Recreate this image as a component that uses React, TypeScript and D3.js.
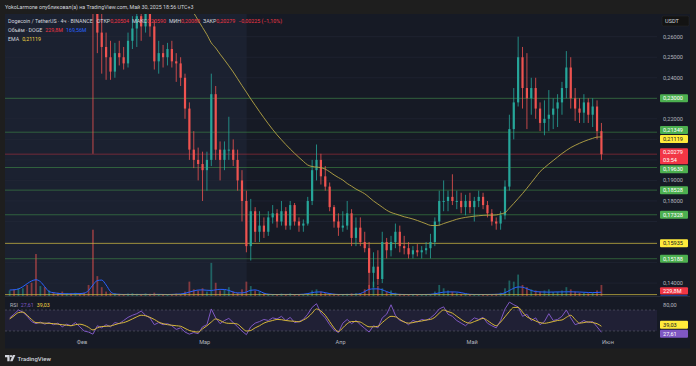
import * as d3 from "d3";

// daily candles, 2025-01-15 .. 2025-05-30  [open, high, low, close]
const firstDay = Date.UTC(2025, 0, 15);
const ohlc: [number, number, number, number][] = [
  [0.37, 0.385, 0.36, 0.38], [0.38, 0.39, 0.36, 0.37], [0.37, 0.4, 0.365, 0.39], [0.39, 0.43, 0.38, 0.4],
  [0.4, 0.41, 0.34, 0.37], [0.37, 0.4, 0.34, 0.36], [0.36, 0.38, 0.33, 0.34], [0.34, 0.37, 0.33, 0.36],
  [0.36, 0.37, 0.34, 0.34], [0.34, 0.36, 0.33, 0.35], [0.35, 0.36, 0.33, 0.34], [0.34, 0.345, 0.31, 0.33],
  [0.33, 0.34, 0.31, 0.32], [0.32, 0.34, 0.315, 0.335], [0.335, 0.345, 0.325, 0.33], [0.33, 0.34, 0.32, 0.335],
  [0.335, 0.34, 0.32, 0.325],
  // Feb
  [0.325, 0.33, 0.3, 0.305], [0.305, 0.31, 0.275, 0.28], [0.28, 0.29, 0.203, 0.272], [0.272, 0.28, 0.252, 0.262],
  [0.262, 0.275, 0.242, 0.255], [0.255, 0.262, 0.239, 0.25], [0.25, 0.258, 0.239, 0.243], [0.243, 0.257, 0.24, 0.252],
  [0.252, 0.258, 0.246, 0.25], [0.25, 0.255, 0.244, 0.247], [0.247, 0.262, 0.245, 0.258], [0.258, 0.27, 0.254, 0.264],
  [0.264, 0.275, 0.255, 0.27], [0.27, 0.278, 0.258, 0.265], [0.265, 0.28, 0.262, 0.275], [0.275, 0.278, 0.26, 0.265],
  [0.265, 0.268, 0.244, 0.248], [0.248, 0.258, 0.242, 0.252], [0.252, 0.256, 0.245, 0.25], [0.25, 0.257, 0.246, 0.254],
  [0.254, 0.258, 0.245, 0.248], [0.248, 0.252, 0.238, 0.247], [0.247, 0.25, 0.236, 0.24], [0.24, 0.242, 0.22, 0.225],
  [0.225, 0.228, 0.2, 0.205], [0.205, 0.214, 0.196, 0.2], [0.2, 0.206, 0.19, 0.198], [0.198, 0.204, 0.18, 0.195],
  // Mar
  [0.195, 0.204, 0.185, 0.2], [0.2, 0.242, 0.197, 0.232], [0.232, 0.236, 0.2, 0.205], [0.205, 0.209, 0.19, 0.2],
  [0.2, 0.209, 0.195, 0.205], [0.205, 0.221, 0.2, 0.205], [0.205, 0.21, 0.197, 0.2], [0.2, 0.205, 0.185, 0.19],
  [0.19, 0.195, 0.17, 0.18], [0.18, 0.185, 0.155, 0.158], [0.158, 0.181, 0.151, 0.175], [0.175, 0.177, 0.16, 0.165],
  [0.165, 0.175, 0.16, 0.168], [0.168, 0.172, 0.162, 0.165], [0.165, 0.175, 0.163, 0.172], [0.172, 0.178, 0.169, 0.174],
  [0.174, 0.176, 0.167, 0.17], [0.17, 0.18, 0.168, 0.175], [0.175, 0.177, 0.166, 0.168], [0.168, 0.18, 0.166, 0.178],
  [0.178, 0.179, 0.168, 0.17], [0.17, 0.172, 0.165, 0.168], [0.168, 0.171, 0.165, 0.169], [0.169, 0.182, 0.168, 0.18],
  [0.18, 0.2, 0.178, 0.195], [0.195, 0.2075, 0.19, 0.2], [0.2, 0.203, 0.188, 0.192], [0.192, 0.197, 0.185, 0.187],
  [0.187, 0.189, 0.175, 0.177], [0.177, 0.178, 0.167, 0.17], [0.17, 0.174, 0.163, 0.167],
  // Apr
  [0.167, 0.175, 0.165, 0.168], [0.168, 0.18, 0.166, 0.174], [0.174, 0.176, 0.158, 0.162], [0.162, 0.172, 0.158, 0.167],
  [0.167, 0.172, 0.158, 0.16], [0.16, 0.165, 0.155, 0.157], [0.157, 0.16, 0.137, 0.145], [0.145, 0.155, 0.138, 0.148],
  [0.148, 0.156, 0.139, 0.142], [0.142, 0.165, 0.14, 0.16], [0.16, 0.162, 0.152, 0.156], [0.156, 0.163, 0.153, 0.16],
  [0.16, 0.169, 0.157, 0.165], [0.165, 0.168, 0.155, 0.158], [0.158, 0.163, 0.154, 0.157], [0.157, 0.16, 0.152, 0.154],
  [0.154, 0.158, 0.152, 0.156], [0.156, 0.159, 0.153, 0.155], [0.155, 0.158, 0.152, 0.156], [0.156, 0.16, 0.154, 0.157],
  [0.157, 0.164, 0.152, 0.16], [0.16, 0.172, 0.158, 0.17], [0.17, 0.185, 0.168, 0.18], [0.18, 0.19, 0.175, 0.18],
  [0.18, 0.185, 0.175, 0.182], [0.182, 0.193, 0.178, 0.18], [0.18, 0.185, 0.176, 0.18], [0.18, 0.184, 0.174, 0.177],
  [0.177, 0.183, 0.173, 0.18], [0.18, 0.184, 0.174, 0.177],
  // May
  [0.177, 0.182, 0.17, 0.18], [0.18, 0.185, 0.177, 0.182], [0.182, 0.184, 0.176, 0.178], [0.178, 0.18, 0.172, 0.174],
  [0.174, 0.176, 0.168, 0.17], [0.17, 0.172, 0.166, 0.169], [0.169, 0.175, 0.166, 0.173], [0.173, 0.19, 0.171, 0.187],
  [0.187, 0.222, 0.185, 0.215], [0.215, 0.235, 0.21, 0.228], [0.228, 0.26, 0.226, 0.25], [0.25, 0.255, 0.225, 0.235],
  [0.235, 0.252, 0.215, 0.23], [0.23, 0.24, 0.222, 0.235], [0.235, 0.24, 0.22, 0.225], [0.225, 0.228, 0.214, 0.218],
  [0.218, 0.229, 0.212, 0.22], [0.22, 0.234, 0.214, 0.222], [0.222, 0.23, 0.215, 0.225], [0.225, 0.232, 0.216, 0.228],
  [0.228, 0.238, 0.222, 0.235], [0.235, 0.253, 0.23, 0.245], [0.245, 0.25, 0.225, 0.23], [0.23, 0.235, 0.219, 0.225],
  [0.225, 0.23, 0.218, 0.223], [0.223, 0.232, 0.218, 0.228], [0.228, 0.23, 0.218, 0.222], [0.222, 0.23, 0.216, 0.226],
  [0.226, 0.229, 0.21, 0.214], [0.214, 0.218, 0.2, 0.20279],
];

// volume, millions of DOGE
const volumes = [
  250, 300, 350, 350, 500, 600, 1900, 450, 400, 250, 180, 150, 200, 130, 120, 150, 130,
  150, 500, 3000, 900, 400, 200, 150, 120, 100, 90, 110, 130, 100, 90, 120, 100, 150, 90, 80, 70, 90, 110, 80, 200, 650, 300, 250, 350,
  200, 1500, 600, 250, 300, 400, 200, 150, 300, 650, 450, 250, 200, 120, 100, 80, 90, 110, 80, 120, 70, 60, 70, 120, 250, 300, 200, 150, 120, 100, 90,
  90, 100, 120, 130, 110, 300, 500, 650, 450, 350, 200, 250, 150, 100, 80, 70, 60, 60, 50, 60, 80, 200, 500, 350, 250, 200, 150, 100, 90, 80,
  80, 90, 70, 60, 80, 100, 150, 350, 700, 650, 970, 500, 400, 300, 250, 200, 250, 300, 180, 200, 250, 400, 300, 200, 150, 150, 120, 150, 250, 500,
];
const volumeMA = [
  270, 280, 320, 420, 560, 680, 736, 650, 420, 200, 150, 120, 105, 100, 100, 105, 110,
  130, 250, 500, 700, 720, 500, 200, 90, 75, 70, 72, 68, 70, 72, 70, 68, 70, 75, 70, 68, 72, 80, 90, 120, 180, 230, 270, 276,
  260, 250, 280, 300, 295, 250, 180, 140, 140, 180, 260, 276, 220, 130, 80, 70, 68, 70, 72, 70, 68, 70, 80, 110, 150, 180, 184, 150, 110, 80, 70,
  70, 70, 72, 75, 110, 200, 300, 322, 322, 280, 200, 130, 90, 72, 70, 68, 70, 70, 68, 70, 75, 100, 140, 175, 184, 184, 180, 150, 110, 75,
  70, 70, 68, 70, 72, 75, 90, 150, 250, 350, 410, 400, 330, 250, 200, 184, 180, 175, 180, 184, 184, 190, 190, 184, 180, 170, 160, 155, 160, 170,
];
const ema = [
  0.35, 0.35, 0.351, 0.352, 0.353, 0.353, 0.353, 0.352, 0.351, 0.35, 0.349, 0.348, 0.347, 0.346, 0.345, 0.344, 0.342,
  0.34, 0.337, 0.334, 0.331, 0.328, 0.325, 0.322, 0.319, 0.316, 0.313, 0.31, 0.307, 0.304, 0.301, 0.298, 0.295, 0.292, 0.289, 0.286, 0.283,
  0.281, 0.279, 0.277, 0.275, 0.274, 0.2715, 0.268, 0.2645,
  0.261, 0.257, 0.2545, 0.2515, 0.2487, 0.2458, 0.2428, 0.2395, 0.2362, 0.233, 0.2297, 0.2266, 0.2235, 0.2205, 0.2176, 0.2148, 0.2122,
  0.2098, 0.2075, 0.2053, 0.2032, 0.2012, 0.1993, 0.1975, 0.1968, 0.1965, 0.1962, 0.1955, 0.1942, 0.1927, 0.1914,
  0.1902, 0.1885, 0.1872, 0.1858, 0.1847, 0.1835, 0.1818, 0.18, 0.1785, 0.177, 0.1755, 0.1744, 0.1737, 0.173, 0.1723, 0.1718, 0.1712,
  0.1705, 0.1697, 0.1689, 0.1681, 0.168, 0.1682, 0.169, 0.1697, 0.1704, 0.1711, 0.1716, 0.172, 0.1723,
  0.1726, 0.1728, 0.173, 0.1731, 0.1731, 0.1732, 0.1737, 0.1743, 0.1765, 0.1788, 0.1812, 0.1836, 0.1862, 0.1889, 0.1916, 0.1943, 0.1962,
  0.198, 0.1997, 0.2014, 0.2031, 0.2046, 0.206, 0.2071, 0.2081, 0.209, 0.2098, 0.2105, 0.2111, 0.21119,
];
const rsi = [
  55, 62, 70, 66, 58, 48, 44, 47, 43, 46, 42, 45, 38, 43, 40, 46, 38,
  30, 28, 24, 40, 36, 42, 38, 46, 44, 50, 56, 60, 63, 68, 60, 55, 42, 46, 42, 44, 40, 33, 36, 28, 24, 27, 25, 38,
  42, 72, 55, 44, 50, 54, 46, 38, 30, 23, 38, 45, 48, 52, 50, 55, 53, 58, 50, 56, 46, 48, 52, 62, 75, 82, 64, 55, 42, 32, 27,
  45, 52, 44, 50, 42, 35, 28, 40, 36, 55, 62, 80, 60, 50, 48, 42, 50, 47, 52, 50, 55, 62, 72, 76, 62, 58, 50, 45, 40, 48,
  55, 52, 56, 45, 40, 36, 50, 72, 85, 80, 76, 58, 62, 50, 55, 42, 48, 63, 50, 52, 58, 70, 55, 42, 45, 50, 46, 48, 38, 27.61,
];
const rsiMA = [
  53, 59, 65, 66, 60, 52, 46, 45.5, 45, 44.6, 44, 43, 42, 41, 40, 42, 43,
  41, 37, 32, 36, 38.5, 39, 39.5, 42, 44.5, 46, 49, 53, 57, 60, 59, 56, 52, 47, 44, 42, 41, 40, 39, 35, 31, 29, 28, 34,
  40, 47, 53, 50, 46, 44.6, 44.6, 43, 36, 30, 31, 36, 40, 45, 48, 50, 52, 51.5, 50, 49, 48.5, 47.5, 51, 56, 64, 72, 68, 60, 48, 36, 29,
  36, 44, 48, 48, 47, 42, 38, 38, 39, 46, 53, 58, 57, 52, 47, 45, 46, 48, 49, 51, 52, 56, 64, 70, 67, 64, 58, 52, 47, 45,
  48, 51, 54, 50, 44, 40, 47, 57, 67, 75, 75, 66, 57, 53, 49, 46, 44.6, 46, 48, 50, 51, 56, 60, 52, 45, 46, 47.5, 46, 44, 39.03,
];

const monthStarts = ["2025-02-01", "2025-03-01", "2025-04-01", "2025-05-01", "2025-06-01"];
const monthNames = ["Фев", "Мар", "Апр", "Май", "Июн"];
const greenLevels = [0.23, 0.21349, 0.1963, 0.18528, 0.17328, 0.15188];
const redLevels = [0.20279];
const yellowLevels = [0.15935, 0.1344];
const highlightEnd = "2025-03-10T14:00:00Z";
const lastPrice = 0.20279;
const lastEma = 0.21119;
const lastVolume = 229.8;
const lastRsi = 27.61;
const lastRsiMA = 39.03;

const UP = "#26a69a";
const DOWN = "#ef5350";
const FONT = "Roboto, 'Noto Sans', sans-serif";

const fmt = (v: number) => v.toFixed(5).replace(".", ",");

type Lab = { y: number; h: number; text: string[]; fill: string; color: string };

// push overlapping axis labels apart, like the price scale does
function resolve(labels: Lab[], gap = 1) {
  const ls = [...labels].sort((a, b) => a.y - b.y);
  for (let k = 0; k < 30; k++) {
    for (let i = 1; i < ls.length; i++) {
      const a = ls[i - 1], b = ls[i];
      const need = a.h / 2 + b.h / 2 + gap;
      const d = b.y - a.y;
      if (d < need) {
        const o = (need - d) / 2;
        a.y -= o;
        b.y += o;
      }
    }
  }
  return ls;
}

export default function App() {
  const left = 5, right = 657, top = 14, paneBottom = 296.5, bottom = 348.5;
  const x = d3
    .scaleUtc()
    .domain([new Date(monthStarts[0]), new Date(monthStarts[4])])
    .range([82, 608]);
  const y = d3.scaleLinear().domain([0.14, 0.26]).range([283.1, 36.7]);
  const yv = d3.scaleLinear().domain([0, 3100]).range([296, 227.5]);
  const yr = d3.scaleLinear().domain([30, 70]).range([331, 310]);
  const cx = (i: number) => x(new Date(firstDay + i * 864e5 + 432e5));
  const bw = 2.2;

  const emaLine = d3.line<number>().x((_, i) => cx(i)).y((d) => y(d)).curve(d3.curveMonotoneX);
  const volLine = d3.line<number>().x((_, i) => cx(i)).y((d) => yv(d)).curve(d3.curveMonotoneX);
  const rsiLine = d3.line<number>().x((_, i) => cx(i)).y((d) => yr(d));
  const rsiMALine = d3.line<number>().x((_, i) => cx(i)).y((d) => yr(d)).curve(d3.curveMonotoneX);

  const GREEN = "#4caf50", RED = "#f23645", YEL = "#ffeb3b";
  const priceLabels = resolve([
    ...greenLevels.map((v) => ({ y: y(v), h: 8, text: [fmt(v)], fill: GREEN, color: "#ffffff" })),
    { y: y(lastEma), h: 8, text: [fmt(lastEma)], fill: YEL, color: "#131722" },
    { y: y(lastPrice) + 4, h: 16, text: [fmt(lastPrice), "03:54"], fill: RED, color: "#ffffff" },
    { y: y(yellowLevels[0]), h: 8, text: [fmt(yellowLevels[0])], fill: YEL, color: "#131722" },
  ]);
  const rsiLabels = resolve([
    { y: yr(lastRsiMA), h: 8, text: ["39,03"], fill: YEL, color: "#131722" },
    { y: yr(lastRsi), h: 8, text: ["27,61"], fill: "#7e57c2", color: "#ffffff" },
  ]);
  // volume labels: last bar on its value, the MA label stacked just below it
  const volY = yv(lastVolume);
  const volLabels: Lab[] = [
    { y: volY, h: 7.4, text: ["229,8M"], fill: RED, color: "#ffffff" },
    { y: volY + 8.4, h: 7.4, text: ["169,56M"], fill: "#2962ff", color: "#ffffff" },
  ];

  const grid = y.ticks(13).filter((t) => y(t) > 30 && y(t) < 288);
  // gray scale labels hidden behind the coloured ones
  const ticks = grid.filter((t) => priceLabels.every((l) => Math.abs(y(t) - l.y) > l.h / 2 + 3));

  const drawLabel = (l: Lab, i: number) => (
    <g key={i}>
      <rect x={660} y={l.y - l.h / 2} width={28} height={l.h} rx={1} fill={l.fill} />
      {l.text.map((t, j) => (
        <text key={j} x={663} y={l.y + 2 + j * 7.6 - (l.h > 10 ? 4 : 0)} fontSize={5.6} fill={l.color}>
          {t}
        </text>
      ))}
    </g>
  );

  return (
    <svg
      width={696}
      height={366}
      style={{ position: "absolute", left: 0, top: 0, background: "#1e1e1e" }}
      fontFamily={FONT}
    >
      <defs>
        <clipPath id="price">
          <rect x={left} y={top} width={right - left} height={paneBottom - top} />
        </clipPath>
        <clipPath id="vol">
          <rect x={656} y={top} width={40} height={paneBottom - top} />
        </clipPath>
      </defs>

      <text x={5} y={9} fontSize={5.3} fill="#d1d4dc">
        YokoLarmone опубликовал(а) на TradingView.com, Май 30, 2025 18:56 UTC+3
      </text>

      {/* panel */}
      <rect x={left} y={top} width={690 - left} height={bottom - top} fill="#161a25" />
      <rect
        x={left}
        y={top}
        width={x(new Date(highlightEnd)) - left}
        height={paneBottom - top}
        fill="#1b2130"
      />

      {/* grid */}
      {grid.map((t) => (
        <line key={t} x1={left} x2={right} y1={y(t)} y2={y(t)} stroke="#232838" strokeWidth={0.6} />
      ))}

      <g clipPath="url(#price)">
        {/* volume */}
        {volumes.map((v, i) => {
          const [o, , , c] = ohlc[i];
          return (
            <rect
              key={i}
              x={cx(i) - 0.9}
              y={yv(v)}
              width={1.8}
              height={yv(0) - yv(v)}
              fill={c >= o ? UP : DOWN}
              opacity={0.5}
            />
          );
        })}
        <path d={volLine(volumeMA) ?? ""} fill="none" stroke="#2962ff" strokeWidth={1} />

        {/* levels */}
        {greenLevels.map((v) => (
          <line key={v} x1={left} x2={right} y1={y(v)} y2={y(v)} stroke="#4caf50" strokeOpacity={0.45} strokeWidth={1} />
        ))}
        {redLevels.map((v) => (
          <line key={v} x1={left} x2={right} y1={y(v)} y2={y(v)} stroke="#f23645" strokeOpacity={0.4} strokeWidth={1} />
        ))}
        {yellowLevels.map((v) => (
          <line key={v} x1={left} x2={right} y1={y(v)} y2={y(v)} stroke="#c9b640" strokeOpacity={0.75} strokeWidth={1} />
        ))}

        {/* candles */}
        {ohlc.map(([o, h, l, c], i) => {
          const col = c >= o ? UP : DOWN;
          const y0 = y(Math.max(o, c));
          const y1 = y(Math.min(o, c));
          return (
            <g key={i}>
              <line x1={cx(i)} x2={cx(i)} y1={y(h)} y2={y(l)} stroke={col} strokeWidth={0.8} />
              <rect x={cx(i) - bw / 2} y={y0} width={bw} height={Math.max(1, y1 - y0)} fill={col} />
            </g>
          );
        })}

        <path d={emaLine(ema) ?? ""} fill="none" stroke="#b8a746" strokeWidth={0.9} />
      </g>

      {/* legend */}
      <text x={8} y={23} fontSize={5.3} fill="#d1d4dc">
        Dogecoin / TetherUS · 4ч · BINANCE
        <tspan dx={4}>ОТКР</tspan>
        <tspan fill={RED}>0,20504</tspan>
        <tspan dx={3}>МАКС</tspan>
        <tspan fill={RED}>0,20590</tspan>
        <tspan dx={3}>МИН</tspan>
        <tspan fill={RED}>0,20080</tspan>
        <tspan dx={3}>ЗАКР</tspan>
        <tspan fill={RED}>0,20279</tspan>
        <tspan dx={3} fill={RED}>−0,00225 (−1,10%)</tspan>
      </text>
      <text x={8} y={32} fontSize={5.3} fill="#d1d4dc">
        Объём · DOGE<tspan dx={3} fill={RED}>229,8M</tspan>
        <tspan dx={3} fill="#2962ff">169,56M</tspan>
      </text>
      <text x={8} y={41} fontSize={5.3} fill="#d1d4dc">
        EMA<tspan dx={3} fill="#f5d742">0,21119</tspan>
      </text>

      {/* price scale */}
      <rect x={662} y={16} width={27} height={10} rx={1.5} fill="#131313" stroke="#2a2a2a" strokeWidth={0.5} />
      <text x={665} y={23} fontSize={5.6} fill="#d1d4dc">
        USDT
      </text>
      {ticks.map((t) => (
        <text key={t} x={663} y={y(t) + 1.8} fontSize={5.6} fill="#b2b5be">
          {fmt(t)}
        </text>
      ))}
      {priceLabels.map(drawLabel)}
      <g clipPath="url(#vol)">{volLabels.map(drawLabel)}</g>

      {/* RSI pane */}
      <line x1={left} x2={690} y1={paneBottom} y2={paneBottom} stroke="#2a2e39" strokeWidth={1} />
      <rect x={left} y={yr(70)} width={right - left} height={yr(30) - yr(70)} fill="#7e57c2" opacity={0.1} />
      {[70, 30].map((v) => (
        <line key={v} x1={left} x2={right} y1={yr(v)} y2={yr(v)} stroke="#787b86" strokeOpacity={0.6} strokeWidth={0.7} strokeDasharray="2,2" />
      ))}
      <path d={rsiLine(rsi) ?? ""} fill="none" stroke="#7e57c2" strokeWidth={1} />
      <path d={rsiMALine(rsiMA) ?? ""} fill="none" stroke="#d9b93a" strokeWidth={1} />
      <text x={10} y={307} fontSize={5.3} fill="#b2b5be">
        RSI<tspan dx={3} fill="#7e57c2">27,61</tspan>
        <tspan dx={3} fill="#f5d742">39,03</tspan>
      </text>
      <text x={663} y={yr(80) + 2} fontSize={5.6} fill="#b2b5be">
        80,00
      </text>
      {rsiLabels.map(drawLabel)}

      {/* time scale */}
      {monthStarts.map((m, i) => (
        <text key={m} x={x(new Date(m))} y={344} fontSize={5.6} fill="#b2b5be" textAnchor="middle">
          {monthNames[i]}
        </text>
      ))}

      {/* logo */}
      <path d="M5 355h4.6v6.2h-2.3v-3.9H5z" fill="#d1d4dc" />
      <circle cx={11} cy={356.2} r={1.1} fill="#d1d4dc" />
      <path d="M12.8 355h2.6l-2.9 6.2h-2.5z" fill="#d1d4dc" />
      <text x={17.5} y={361} fontSize={6} fill="#d1d4dc" fontWeight={500}>
        TradingView
      </text>
    </svg>
  );
}
